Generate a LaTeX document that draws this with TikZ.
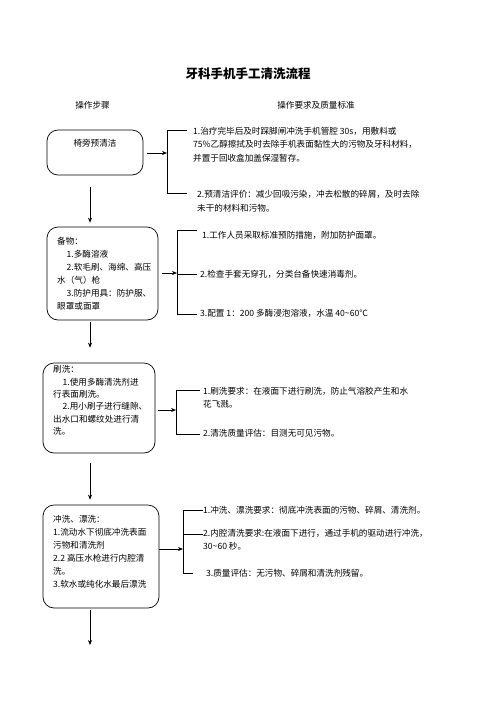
\documentclass[tikz,border=0pt]{standalone}
\usepackage{fontspec}
\setmainfont{Noto Sans CJK SC}
\usetikzlibrary{positioning,arrows.meta}

\begin{document}
\begin{tikzpicture}[x=1pt,y=-1pt,
    stepbox/.style={draw, rounded corners=11pt, line width=0.7pt, inner sep=0pt},
    note/.style={anchor=north west, inner sep=0pt, align=left},
    arr/.style={-{Stealth[length=5pt,width=4pt]}, line width=0.7pt},
    brk/.style={line width=0.7pt},
    every node/.style={font=\fontsize{8.6}{13}\selectfont}]
    \useasboundingbox (0,0) rectangle (496,702);
    % title and column heads
    \node[font=\bfseries\fontsize{12.5}{14}\selectfont] (title) at (248,74) {牙科手机手工清洗流程};
    \node (hstep) at (92.5,105) {操作步骤};
    \node (hreq) at (316,105) {操作要求及质量标准};

    % steps
    \node[stepbox, minimum width=96pt, minimum height=45pt] (pre) at (95,152.5) {};
    \node[stepbox, minimum width=111pt, minimum height=93pt] (prep) at (102.5,273.5) {};
    \node[stepbox, minimum width=112pt, minimum height=90pt] (brush) at (99,408) {};
    \node[stepbox, minimum width=116pt, minimum height=103pt] (rinse) at (101,556.5) {};

    \node (pretext) at (95,143) {椅旁预清洁};
    \node[note] (preptext) at (57,237.5) {备物：\\
        \hspace*{1.1em}1.多酶溶液\\
        \hspace*{1.1em}2.软毛刷、海绵、高压\\
        水（气）枪\\
        \hspace*{1.1em}3.防护用具：防护服、\\
        眼罩或面罩};
    \node[note, font=\fontsize{8.6}{12.3}\selectfont] (brushtext) at (53,365.5) {刷洗：\\
        \hspace*{1.1em}1.使用多酶清洗剂进\\
        行表面刷洗。\\
        \hspace*{1.1em}2.用小刷子进行缝隙、\\
        出水口和螺纹处进行清\\
        洗。};
    \node[note] (rinsetext) at (53,515.5) {冲洗、漂洗：\\
        1.流动水下彻底冲洗表面\\
        污物和清洗剂\\
        2.2 高压水枪进行内腔清\\
        洗。\\
        3.软水或纯化水最后漂洗};

    % arrows between steps
    \coordinate (ax) at (90,0);
    \coordinate (fin) at (90,645);
    \draw[arr, shorten <=12pt, shorten >=4pt] (pre.south -| ax) -- (prep.north -| ax);
    \draw[arr, shorten <=2pt, shorten >=15pt] (prep.south -| ax) -- (brush.north -| ax);
    \draw[arr, shorten <=10pt, shorten >=5pt] (brush.south -| ax) -- (rinse.north -| ax);
    \draw[arr, shorten <=2pt] (rinse.south -| ax) -- (fin);

    % requirements, step 1
    \coordinate (k1t) at (167,130);
    \coordinate (k1b) at (167,193);
    \coordinate (k1) at (167,153);
    \draw[brk] (k1t) -- (k1b);
    \draw[brk] (k1t) -- ++(20,0);
    \draw[brk] (k1b) -- ++(20,0);
    \draw[arr, shorten <=4pt] (pre.east |- k1) -- (k1);
    \node[note, font=\fontsize{8.6}{13.5}\selectfont] (req1a) at (193,126.5) {1.治疗完毕后及时踩脚闸冲洗手机管腔 30s，用敷料或\\
        75\%乙醇擦拭及时去除手机表面黏性大的污物及牙科材料，\\
        并置于回收盒加盖保湿暂存。};
    \node[note, font=\fontsize{8.6}{14}\selectfont] (req1b) at (197,190.5) {2.预清洁评价：减少回吸污染，冲去松散的碎屑，及时去除\\
        未干的材料和污物。};

    % requirements, step 2
    \coordinate (k2t) at (177,230);
    \coordinate (k2m) at (177,274);
    \coordinate (k2b) at (177,314);
    \coordinate (k2) at (177,273);
    \draw[brk] (k2t) -- (k2b);
    \foreach \k in {k2t,k2m,k2b}
        \draw[brk] (\k) -- ++(20,0);
    \draw[arr, shorten <=4pt] (prep.east |- k2) -- (k2);
    \node[anchor=west, inner sep=0pt] (req2a) at (202,235) {1.工作人员采取标准预防措施，附加防护面罩。};
    \node[anchor=west, inner sep=0pt] (req2b) at (200,274) {2.检查手套无穿孔，分类台备快速消毒剂。};
    \node[anchor=west, inner sep=0pt] (req2c) at (200,313) {3.配置 1：200 多酶浸泡溶液，水温 40\textasciitilde60℃};

    % requirements, step 3
    \coordinate (k3t) at (176,390);
    \coordinate (k3b) at (176,434);
    \coordinate (k3) at (176,410);
    \draw[brk] (k3t) -- (k3b);
    \draw[brk] (k3t) -- ++(24,0);
    \draw[brk] (k3b) -- ++(24,0);
    \draw[arr, shorten <=3pt] (brush.east |- k3) -- (k3);
    \node[note] (req3a) at (203,387.5) {1.刷洗要求：在液面下进行刷洗，防止气溶胶产生和水\\
        花飞溅。};
    \node[anchor=west, inner sep=0pt] (req3b) at (203,433) {2.清洗质量评估：目测无可见污物。};

    % requirements, step 4
    \coordinate (k4t) at (183,510);
    \coordinate (k4m) at (183,534);
    \coordinate (k4b) at (183,573);
    \coordinate (k4) at (183,549);
    \draw[brk] (k4t) -- (k4b);
    \draw[brk] (k4t) -- ++(20,0);
    \draw[brk] (k4m) -- ++(20,0);
    \draw[brk] (k4b) -- ++(10,0);
    \draw[arr] (rinse.east |- k4) -- (k4);
    \node[anchor=west, inner sep=0pt] (req4a) at (203,510) {1.冲洗、漂洗要求：彻底冲洗表面的污物、碎屑、清洗剂。};
    \node[note] (req4b) at (203,529.5) {2.内腔清洗要求:在液面下进行，通过手机的驱动进行冲洗，\\
        30\textasciitilde60 秒。};
    \node[anchor=west, inner sep=0pt] (req4c) at (206,573) {3.质量评估：无污物、碎屑和清洗剂残留。};
\end{tikzpicture}
\end{document}
